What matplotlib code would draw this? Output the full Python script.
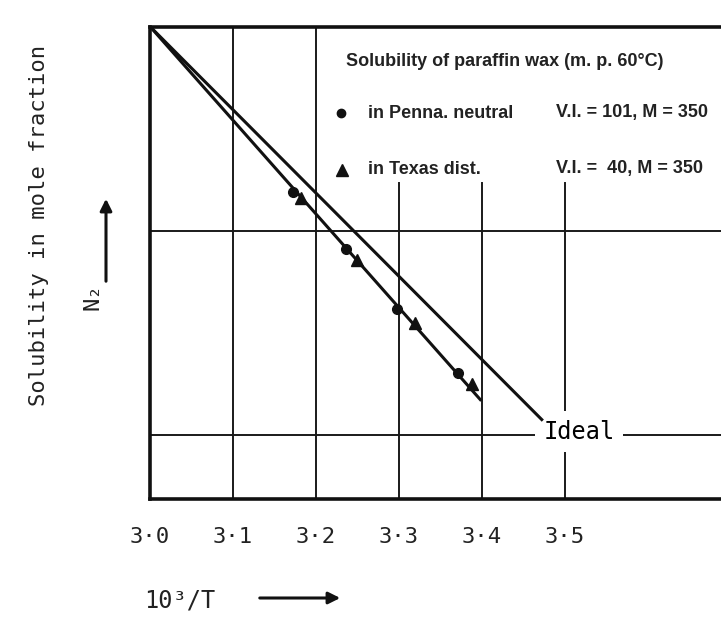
import matplotlib.pyplot as plt
import numpy as np

# 10^3/T axis
x_ticks = [3.0, 3.1, 3.2, 3.3, 3.4, 3.5]
x_ticklabels = ['3·0', '3·1', '3·2', '3·3', '3·4', '3·5']

# measured solubility (mole fraction) of paraffin wax
penna_x = [3.172, 3.236, 3.298, 3.371]
penna_n2 = [0.155, 0.0817, 0.0415, 0.0202]
texas_x = [3.182, 3.249, 3.319, 3.388]
texas_n2 = [0.145, 0.0721, 0.0355, 0.0177]

# fitted line through the data and the ideal solubility line
exp_x = [3.0, 3.398]
exp_n2 = [1.0, 0.0149]
ideal_x = [3.0, 3.472]
ideal_n2 = [1.0, 0.0119]

W, H = 721, 617


def px(x, y):
    # pixel position (from top-left) -> figure fraction
    return x / W, 1 - y / H


mono = ['DejaVu Sans Mono', 'DejaVu Sans']
narrow = ['Liberation Sans', 'DejaVu Sans']

fig = plt.figure(figsize=(W / 100, H / 100), dpi=100)
ax = fig.add_axes([150 / W, 1 - 499 / H, 1 - 150 / W, (499 - 26.5) / H])
ax.set_yscale('log')
ax.set_xlim(3.0, 3.688)
ax.set_ylim(0.00486, 1.0)

# grid, drawn by hand since some lines stop under the key
lc = '#1a1a1a'
for xv in [3.1, 3.2]:
    ax.axvline(xv, color=lc, lw=1.4, zorder=1)
for xv in [3.3, 3.4, 3.5]:
    ax.plot([xv, xv], [0.00486, 0.172], color=lc, lw=1.4, zorder=1)
for yv in [0.1, 0.01]:
    ax.axhline(yv, color=lc, lw=1.4, zorder=1)

ax.plot(ideal_x, ideal_n2, color='#111111', lw=2.2, zorder=4)
ax.plot(exp_x, exp_n2, color='#111111', lw=2.2, zorder=4)
ax.plot(penna_x, penna_n2, 'o', color='#111111', ms=7, zorder=5)
ax.plot(texas_x, texas_n2, '^', color='#111111', ms=8, zorder=5)

ax.text(3.517, 0.0104, 'Ideal', family=mono, fontsize=17, ha='center', va='center',
        zorder=3, bbox=dict(facecolor='white', edgecolor='none', pad=6))

for side in ['left', 'bottom', 'top']:
    ax.spines[side].set_linewidth(2.6)
    ax.spines[side].set_color('#111111')
ax.spines['right'].set_visible(False)

ax.set_yticks([])
ax.minorticks_off()
ax.yaxis.set_minor_locator(plt.NullLocator())
ax.set_xticks(x_ticks)
ax.set_xticklabels(x_ticklabels, family=mono, fontsize=16)
ax.tick_params(axis='x', length=0, pad=20, colors='#222222')

# axis titles and arrows
fig.text(*px(39, 225), 'Solubility in mole fraction', family=mono, fontsize=16,
         rotation=90, ha='center', va='center', color='#222222')
fig.text(*px(93, 297), 'N₂', family=mono, fontsize=16, rotation=90,
         ha='center', va='center', color='#222222')
fig.text(*px(180, 601), '10³/T', family=mono, fontsize=17,
         ha='center', va='center', color='#222222')
arrow = dict(arrowstyle='-|>,head_length=0.7,head_width=0.35', color='#111111', lw=2.2)
ax.annotate('', xy=px(106, 196), xytext=px(106, 284),
            xycoords='figure fraction', textcoords='figure fraction', arrowprops=arrow)
ax.annotate('', xy=px(343, 598), xytext=px(257, 598),
            xycoords='figure fraction', textcoords='figure fraction', arrowprops=arrow)

# key
kw = dict(family=narrow, fontsize=13, fontweight='bold', va='center', color='#222222')
fig.text(*px(346, 62), 'Solubility of paraffin wax (m. p. 60°C)', **kw)
fig.text(*px(368, 113), 'in Penna. neutral', **kw)
fig.text(*px(556, 113), 'V.I. = 101, M = 350', **kw)
fig.text(*px(368, 169), 'in Texas dist.', **kw)
fig.text(*px(556, 169), 'V.I. =  40, M = 350', **kw)
fig.lines.append(plt.Line2D(*zip(px(341, 113)), marker='o', ms=6, color='#111111',
                            transform=fig.transFigure))
fig.lines.append(plt.Line2D(*zip(px(342, 170)), marker='^', ms=8, color='#111111',
                            transform=fig.transFigure))

fig.savefig('out.png', dpi=100)
